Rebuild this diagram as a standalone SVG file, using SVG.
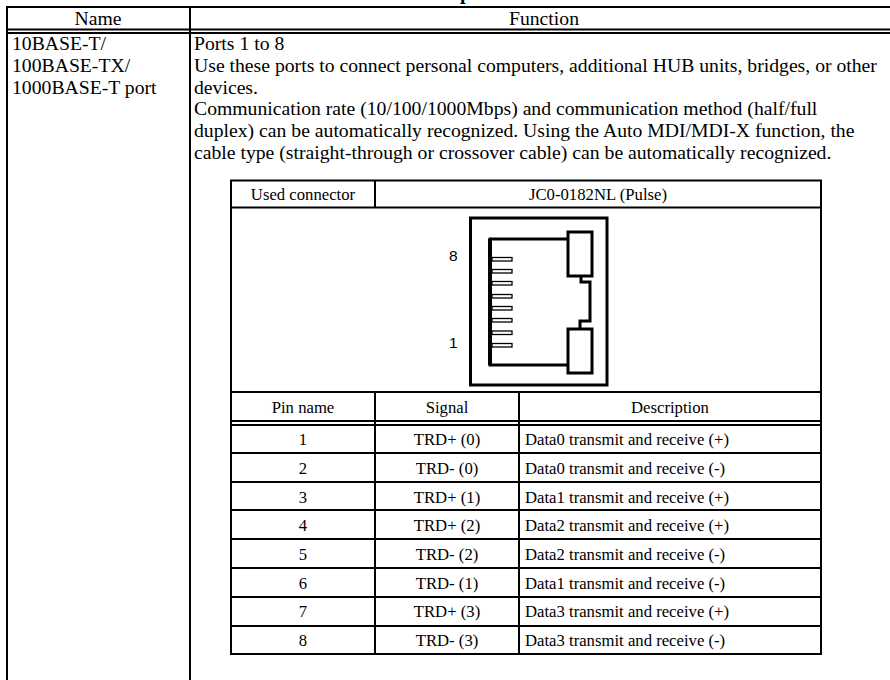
<svg xmlns="http://www.w3.org/2000/svg" width="890" height="680" viewBox="0 0 890 680">
<style>
text{font-family:"Liberation Serif","Times New Roman",serif;fill:#000}
.m{font-size:19.7px}
.s{font-size:16.7px}
.c{text-anchor:middle}
.a{font-family:"Liberation Sans",Arial,sans-serif;font-size:15.500px}
.l{stroke:#000;stroke-width:2;fill:none}
.k{stroke:#000;stroke-width:3;fill:none}
.b{stroke:#000;stroke-width:3;fill:#fff}
</style>
<rect width="890" height="680" fill="#fff"/>
<g id="outer-table">
<text x="460" y="-1" font-size="20" font-weight="bold">p</text>
<path class="l" d="M6 7H890M6 29.500H890M6 33H890M7 6V680M190 6V680"/>
<text class="m c" x="98" y="25">Name</text>
<text class="m c" x="544" y="25">Function</text>
<text class="m" x="12" y="50">10BASE-T/</text>
<text class="m" x="12" y="72">100BASE-TX/</text>
<text class="m" x="12" y="94">1000BASE-T port</text>
<text class="m" x="194" y="50">Ports 1 to 8</text>
<text class="m" x="194" y="72">Use these ports to connect personal computers, additional HUB units, bridges, or other</text>
<text class="m" x="194" y="94">devices.</text>
<text class="m" x="194" y="115">Communication rate (10/100/1000Mbps) and communication method (half/full</text>
<text class="m" x="194" y="137">duplex) can be automatically recognized. Using the Auto MDI/MDI-X function, the</text>
<text class="m" x="194" y="159">cable type (straight-through or crossover cable) can be automatically recognized.</text>
</g>
<g id="pin-table">
<path class="l" d="M230 180.500H822M231 180V655M821 180V655M230 654H822M231 207.500H821M231 392H821M231 421H821M231 425H821M231 453H821M231 482H821M231 510H821M231 539H821M231 568H821M231 597H821M231 626H821M375 181V208M375 392V654M519 392V654"/>
<text class="s c" x="303" y="199.500">Used connector</text>
<text class="s c" x="598" y="199.500">JC0-0182NL (Pulse)</text>
<text class="s c" x="303" y="413">Pin name</text>
<text class="s c" x="447" y="413">Signal</text>
<text class="s c" x="670" y="413">Description</text>
<text class="s c" x="303" y="445">1</text><text class="s c" x="447" y="445">TRD+ (0)</text><text class="s" x="525" y="445">Data0 transmit and receive (+)</text>
<text class="s c" x="303" y="474">2</text><text class="s c" x="447" y="474">TRD- (0)</text><text class="s" x="525" y="474">Data0 transmit and receive (-)</text>
<text class="s c" x="303" y="503">3</text><text class="s c" x="447" y="503">TRD+ (1)</text><text class="s" x="525" y="503">Data1 transmit and receive (+)</text>
<text class="s c" x="303" y="531">4</text><text class="s c" x="447" y="531">TRD+ (2)</text><text class="s" x="525" y="531">Data2 transmit and receive (+)</text>
<text class="s c" x="303" y="560">5</text><text class="s c" x="447" y="560">TRD- (2)</text><text class="s" x="525" y="560">Data2 transmit and receive (-)</text>
<text class="s c" x="303" y="589">6</text><text class="s c" x="447" y="589">TRD- (1)</text><text class="s" x="525" y="589">Data1 transmit and receive (-)</text>
<text class="s c" x="303" y="617">7</text><text class="s c" x="447" y="617">TRD+ (3)</text><text class="s" x="525" y="617">Data3 transmit and receive (+)</text>
<text class="s c" x="303" y="646">8</text><text class="s c" x="447" y="646">TRD- (3)</text><text class="s" x="525" y="646">Data3 transmit and receive (-)</text>
</g>
<g id="connector">
<rect class="k" x="470.500" y="218" width="136.500" height="167"/>
<path class="k" d="M568 239H490V365H568"/>
<path d="M490 239V365" stroke="#000" stroke-width="4"/>
<rect class="b" x="568" y="232" width="24" height="44"/>
<rect class="b" x="568" y="329" width="24" height="44"/>
<path class="k" d="M581 276V282H590V321H580V329"/>
<g fill="#fff" stroke="#000" stroke-width="1.300">
<rect x="492" y="257.500" width="20" height="3.500"/>
<rect x="492" y="269.500" width="20" height="3.500"/>
<rect x="492" y="281.500" width="20" height="3.500"/>
<rect x="492" y="294.500" width="20" height="3.500"/>
<rect x="492" y="306.500" width="20" height="3.500"/>
<rect x="492" y="318.500" width="20" height="3.500"/>
<rect x="492" y="331" width="20" height="3.500"/>
<rect x="492" y="343.500" width="20" height="3.500"/>
</g>
<text class="a" x="449" y="261">8</text>
<text class="a" x="449" y="348">1</text>
</g>
</svg>
